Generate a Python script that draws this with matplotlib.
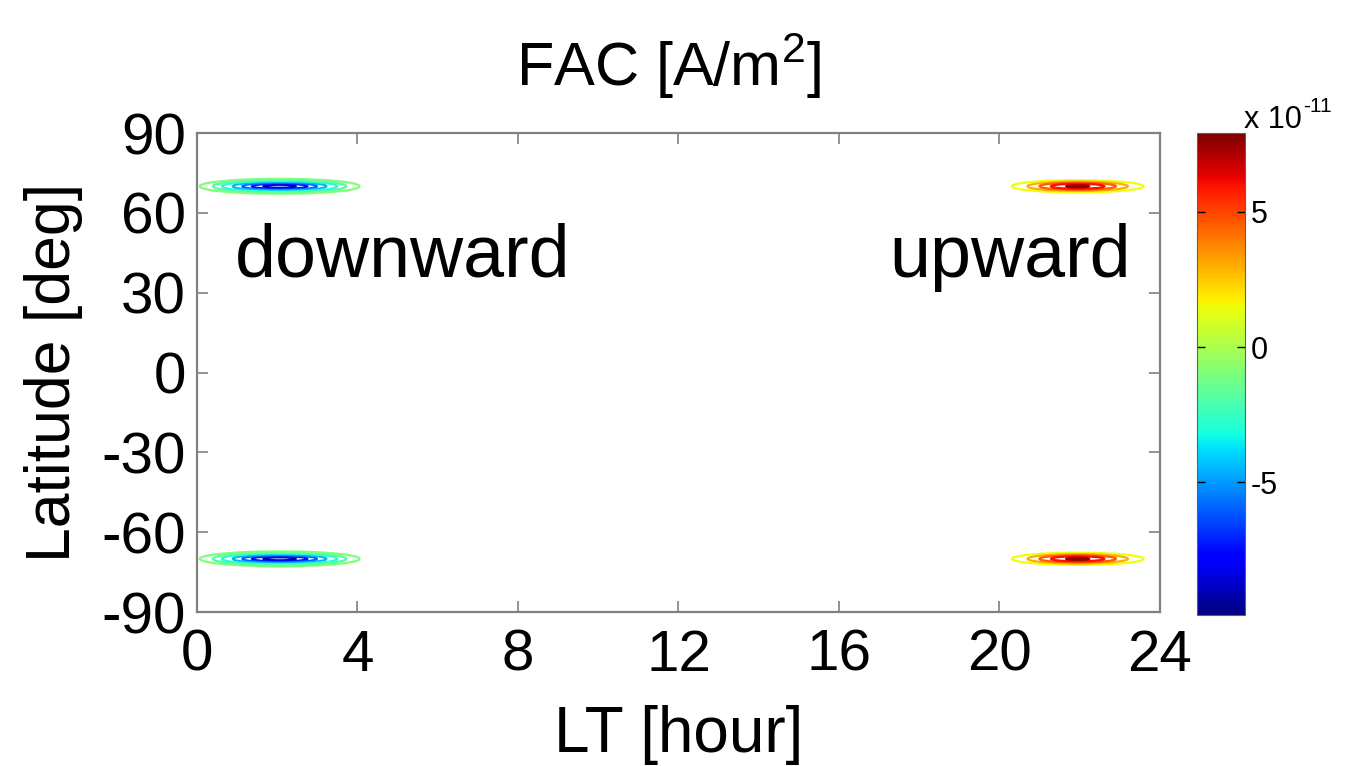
import numpy as np
import matplotlib
matplotlib.use("Agg")
import matplotlib.pyplot as plt
from matplotlib.colors import Normalize
from matplotlib.cm import ScalarMappable

plt.rcParams["font.family"] = ["Liberation Sans", "DejaVu Sans"]
plt.rcParams["axes.unicode_minus"] = False
plt.rcParams["mathtext.fontset"] = "custom"
plt.rcParams["mathtext.rm"] = "Liberation Sans"

# Field-aligned current sources (units of 1e-11 A/m^2)
src_lt = [2.06, 2.06, 21.95, 21.95]      # local time of each source [hour]
src_lat = [70.0, -70.0, 70.0, -70.0]     # latitude of each source [deg]
src_peak = [-9.9, -9.9, 7.9, 7.9]        # peak current density
src_width_lt = [0.93, 0.93, 0.9, 0.9]    # spread in local time [hour]
src_width_lat = [1.3, 1.3, 1.25, 1.25]   # spread in latitude [deg]

contour_levels = [-9, -7.5, -6, -4.5, -3, -2, -1, 1.5, 3, 4.5, 6, 7.5]
cbar_min, cbar_max = -9.9, 7.9
cbar_ticks = [-5, 0, 5]
x_ticks = [0, 4, 8, 12, 16, 20, 24]
y_ticks = [-90, -60, -30, 0, 30, 60, 90]

lt = np.linspace(0, 24, 481)
lat = np.linspace(-90, 90, 721)
LT, LAT = np.meshgrid(lt, lat)
fac = np.zeros_like(LT)
for x0, y0, a, sx, sy in zip(src_lt, src_lat, src_peak, src_width_lt, src_width_lat):
    fac += a * np.exp(-0.5 * ((LT - x0) / sx) ** 2 - 0.5 * ((LAT - y0) / sy) ** 2)

fig = plt.figure(figsize=(13.64, 7.66), dpi=100)
ax = fig.add_axes([0.1444, 0.201, 0.7060, 0.6253])
cax = fig.add_axes([0.8776, 0.197, 0.0352, 0.629])

norm = Normalize(vmin=cbar_min, vmax=cbar_max)
ax.contour(LT, LAT, fac, levels=contour_levels, cmap="jet", norm=norm, linewidths=1.6)

ax.set_xlim(0, 24)
ax.set_ylim(-90, 90)
ax.set_xticks(x_ticks)
ax.set_yticks(y_ticks)
for s in ax.spines.values():
    s.set_color("#808080")
    s.set_linewidth(1.6)
ax.tick_params(direction="in", top=True, right=True, length=8, width=1.2,
               color="#808080", labelsize=42, labelcolor="black")
ax.tick_params(axis="x", pad=12)
ax.tick_params(axis="y", pad=8)
ax.set_xlabel("LT [hour]", fontsize=46, labelpad=16)
ax.set_ylabel("Latitude [deg]", fontsize=45, labelpad=13)
ax.set_title("FAC [A/m$^2$]", fontsize=44, pad=34, x=0.49)

ax.text(0.95, 36, "downward", fontsize=53, va="baseline", ha="left")
ax.text(17.25, 36, "upward", fontsize=53, va="baseline", ha="left")

cb = fig.colorbar(ScalarMappable(norm=norm, cmap="jet"), cax=cax, ticks=cbar_ticks)
cb.outline.set_edgecolor("#606060")
cb.ax.tick_params(direction="in", left=True, right=True, length=6, width=1.0,
                  labelsize=22, pad=4)
cb.ax.set_yticklabels([str(t) for t in cbar_ticks])
cax.text(0.98, 1.012, "x 10", transform=cax.transAxes, fontsize=22,
         ha="left", va="baseline")
cax.text(2.2, 1.045, "-11", transform=cax.transAxes, fontsize=15,
         ha="left", va="baseline")

fig.savefig("out.png", dpi=100)
